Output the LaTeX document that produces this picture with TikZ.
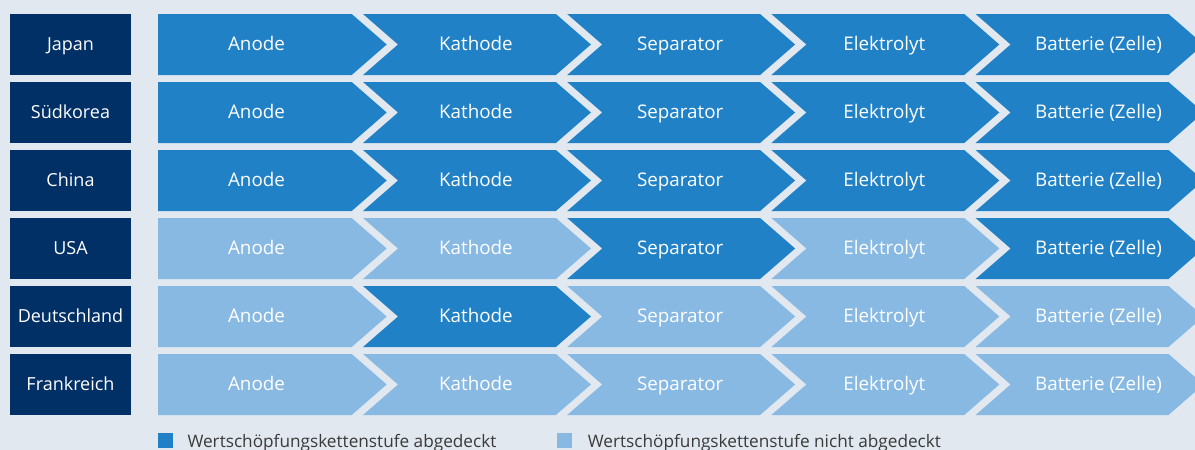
\documentclass[tikz,border=0pt]{standalone}
\usepackage{fontspec}
\setmainfont{Open Sans}
\definecolor{bg}{HTML}{E1E8F0}
\definecolor{navy}{HTML}{003066}
\definecolor{dark}{HTML}{2181C6}
\definecolor{light}{HTML}{88B9E3}
\definecolor{legtext}{HTML}{3A3A3A}
\tikzset{
  country/.style={fill=navy, minimum width=121pt, minimum height=61pt, inner sep=0pt, anchor=center},
  ctxt/.style={text=white, font=\fontsize{18}{20}\selectfont, inner sep=0pt, anchor=base},
  lab/.style={text=white, font=\fontsize{18.8}{20}\selectfont, inner sep=0pt, anchor=base},
  legbox/.style={minimum size=15pt, inner sep=0pt, anchor=north west},
  legtxt/.style={text=legtext, font=\fontsize{17.2}{20}\selectfont, inner sep=0pt, anchor=base west},
}
\begin{document}
\begin{tikzpicture}[x=1pt,y=-1pt]
\useasboundingbox (0,0) rectangle (1195,450);
\clip (0,0) rectangle (1195,450);
\fill[bg] (0,0) rectangle (1195,450);
\def\pitch{204.2}
\def\depth{35}
\foreach \country/\pat [count=\r from 0] in {Japan/{1,1,1,1,1}, Südkorea/{1,1,1,1,1}, China/{1,1,1,1,1}, USA/{0,0,1,0,1}, Deutschland/{0,1,0,0,0}, Frankreich/{0,0,0,0,0}} {
  \pgfmathsetmacro{\top}{14+68*\r}
  \pgfmathsetmacro{\bot}{\top+61}
  \pgfmathsetmacro{\mid}{\top+30.5}
  \pgfmathsetmacro{\base}{\mid+6.3}
  \node[country] (c\r) at (70.5,\mid) {};
  \node[ctxt] (ct\r) at (70.5,\base) {\country};
  \foreach \lbl/\c [count=\j from 0] in {Anode/0, Kathode/1, Separator/2, Elektrolyt/3, Batterie (Zelle)/4} {
    \pgfmathsetmacro{\R}{351.7+\pitch*\j}
    \pgfmathsetmacro{\L}{ifthenelse(\j==0,158,363+\pitch*(\j-1))}
    \pgfmathsetmacro{\notch}{ifthenelse(\j==0,158,\L+\depth)}
    \pgfmathsetmacro{\cx}{ifthenelse(\j==0,256.5,ifthenelse(\j==4,1098.5,(\notch+\R)/2-1))}
    \pgfmathtruncatemacro{\isdark}{{\pat}[\j]}
    \ifnum\isdark=1 \def\fc{dark}\else\def\fc{light}\fi
    \fill[\fc] (\L,\top) -- (\R,\top) -- (\R+\depth,\mid) -- (\R,\bot) -- (\L,\bot) -- (\notch,\mid) -- cycle;
    \node[lab] (s\r-\j) at (\cx,\base) {\lbl};
  }
}
\node[legbox, fill=dark] (k1) at (157.5,432.3) {};
\node[legtxt] (t1) at (187.3,447.3) {Wertschöpfungskettenstufe abgedeckt};
\node[legbox, fill=light] (k2) at (557,432.3) {};
\node[legtxt] (t2) at (587.7,447.3) {Wertschöpfungskettenstufe nicht abgedeckt};
\end{tikzpicture}
\end{document}
